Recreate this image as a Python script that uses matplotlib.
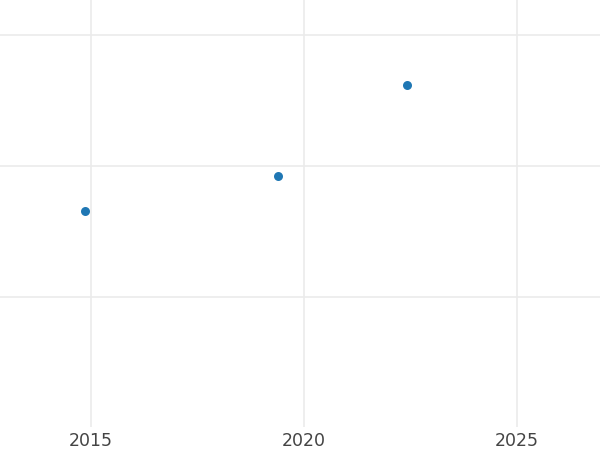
import matplotlib
matplotlib.use("Agg")
import matplotlib.pyplot as plt

years = [2014.86, 2019.39, 2022.42]
values = [1.656, 1.924, 2.618]
xticks = [2015, 2020, 2025]
yticks = [1, 2, 3]

fig = plt.figure(figsize=(6, 4.5), dpi=100)
ax = fig.add_axes([0, 1 - 427 / 450, 1, 427 / 450])
ax.scatter(years, values, s=42, color="#1f77b4", zorder=3, linewidths=0)
ax.set_xlim(2012.864, 2026.95)
ax.set_ylim(0.008, 3.267)
ax.set_xticks(xticks)
ax.set_xticklabels([str(t) for t in xticks])
ax.set_yticks(yticks)
ax.set_yticklabels([])
ax.grid(True, color="#ebebeb", linewidth=1.2)
ax.set_axisbelow(True)
for s in ax.spines.values():
    s.set_visible(False)
ax.tick_params(axis="both", length=0, labelsize=12.5, labelcolor="#444444", pad=3.5)
ax.tick_params(axis="y", left=False, labelleft=False)
fig.savefig("out.png", dpi=100)
